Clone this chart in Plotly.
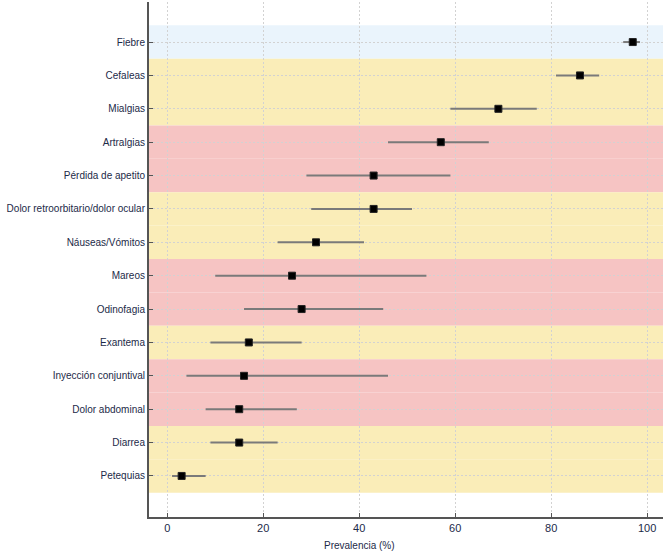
import plotly.graph_objects as go

categories = ["Fiebre", "Cefaleas", "Mialgias", "Artralgias", "Pérdida de apetito",
              "Dolor retroorbitario/dolor ocular", "Náuseas/Vómitos", "Mareos", "Odinofagia",
              "Exantema", "Inyección conjuntival", "Dolor abdominal", "Diarrea", "Petequias"]
prevalence = [97, 86, 69, 57, 43, 43, 31, 26, 28, 17, 16, 15, 15, 3]
ci_low = [95, 81, 59, 46, 29, 30, 23, 10, 16, 9, 4, 8, 9, 1]
ci_high = [98.5, 90, 77, 67, 59, 51, 41, 54, 45, 28, 46, 27, 23, 8]
band_groups = ["blue", "yellow", "yellow", "pink", "pink", "yellow", "yellow",
               "pink", "pink", "yellow", "pink", "pink", "yellow", "yellow"]
x_ticks = [0, 20, 40, 60, 80, 100]
x_title = "Prevalencia (%)"

band_colors = {"blue": "#EAF4FC", "yellow": "#FAEDB8", "pink": "#F6C4C3"}
ypos = list(range(len(categories)))

fig = go.Figure()

shapes = []
for i, g in enumerate(band_groups):
    shapes.append(dict(type="rect", xref="paper", yref="y", x0=0, x1=1,
                       y0=i - 0.5, y1=i + 0.5, fillcolor=band_colors[g],
                       line=dict(width=0), layer="below"))

fig.add_trace(go.Scatter(
    x=prevalence, y=ypos, mode="markers",
    marker=dict(symbol="square", size=7, color="black", line=dict(width=1, color="#222")),
    error_x=dict(type="data", symmetric=False,
                 array=[h - p for h, p in zip(ci_high, prevalence)],
                 arrayminus=[p - l for l, p in zip(ci_low, prevalence)],
                 color="#7a7a7a", thickness=2, width=0),
    showlegend=False))

font_family = "Liberation Sans, Arial, sans-serif"
text_color = "#1c2a48"

fig.add_annotation(text=x_title, xref="paper", yref="paper", x=(359 - 149) / 514,
                   y=-28 / 515, xanchor="center", yanchor="middle", showarrow=False,
                   font=dict(size=10, color=text_color))

fig.update_layout(
    width=663, height=551,
    margin=dict(l=149, r=0, t=2, b=34),
    plot_bgcolor="white", paper_bgcolor="white",
    shapes=shapes,
    font=dict(family=font_family, size=10, color=text_color),
    xaxis=dict(range=[-3.8, 103.3], tickvals=x_ticks, ticks="inside", ticklen=4,
               tickcolor="#555", showgrid=True, gridcolor="#d2d2d2", griddash="2px,2px",
               gridwidth=1, showline=True, linecolor="#555", linewidth=2,
               zeroline=False, automargin=False, tickfont=dict(size=11)),
    yaxis=dict(range=[14.23, -1.2], tickvals=ypos, ticktext=categories,
               ticks="inside", ticklen=4, tickcolor="#555",
               showgrid=True, gridcolor="#d2d2d2", griddash="2px,2px", gridwidth=1,
               showline=True, linecolor="#555", linewidth=2, zeroline=False,
               automargin=False, tickfont=dict(size=10)),
)

fig.write_html("out.html", config={"displayModeBar": False},
               post_script="document.body.style.margin='0';")
